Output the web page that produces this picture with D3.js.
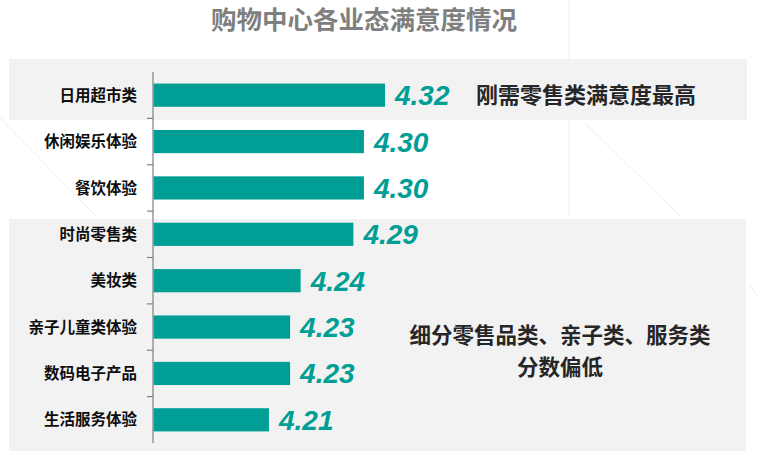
<!DOCTYPE html>
<html>
<head>
<meta charset="utf-8">
<script src="https://cdn.jsdelivr.net/npm/d3@7/dist/d3.min.js"></script>
<style>
  html, body { margin: 0; padding: 0; background: #ffffff; }
  svg { display: block; }
</style>
</head>
<body>
<svg id="chart" width="757" height="463"></svg>
<script>
// ---- data ----
const categories = ["日用超市类", "休闲娱乐体验", "餐饮体验", "时尚零售类", "美妆类", "亲子儿童类体验", "数码电子产品", "生活服务体验"];
const values = [4.32, 4.30, 4.30, 4.29, 4.24, 4.23, 4.23, 4.21];
const valueLabels = ["4.32", "4.30", "4.30", "4.29", "4.24", "4.23", "4.23", "4.21"];
const titleText = "购物中心各业态满意度情况";
const noteTop = ["刚需零售类满意度最高"];
const noteBottom = ["细分零售品类、亲子类、服务类", "分数偏低"];
const xDomain = [4.10, 4.40];

// ---- drawing ----
const svg = d3.select("#chart");
const cjk = "'Noto Sans CJK SC', 'Noto Sans', sans-serif";
const teal = "#009e94";

// faint decorative background lines
const deco = svg.append("g").attr("stroke", "#ececec").attr("stroke-width", 1).attr("fill", "none");
deco.append("line").attr("x1", 569).attr("y1", 0).attr("x2", 569).attr("y2", 216);
deco.append("line").attr("x1", 585).attr("y1", 123).attr("x2", 680).attr("y2", 216);
deco.append("line").attr("x1", 0).attr("y1", 118).attr("x2", 95).attr("y2", 215);
deco.append("line").attr("x1", 750).attr("y1", 285).attr("x2", 757).attr("y2", 296);

// gray panels
svg.append("rect").attr("x", 9).attr("y", 59).attr("width", 738).attr("height", 61).attr("fill", "#f2f2f2");
svg.append("rect").attr("x", 9).attr("y", 219).attr("width", 737).attr("height", 232).attr("fill", "#f2f2f2");

// title
svg.append("text")
  .attr("x", 364).attr("y", 29)
  .attr("text-anchor", "middle")
  .attr("font-family", cjk).attr("font-weight", "bold")
  .attr("font-size", 25.5).attr("fill", "#7f7f7f")
  .text(titleText);

const x = d3.scaleLinear().domain(xDomain).range([153, 469.4]);
const y = d3.scaleBand().domain(categories).range([72, 443]).paddingInner(0.5).paddingOuter(0.25);
const step = y.step();

// axis line and boundary ticks
const axis = svg.append("g").attr("stroke", "#808080").attr("stroke-width", 1.2);
axis.append("line").attr("x1", x(xDomain[0])).attr("x2", x(xDomain[0]))
  .attr("y1", y.range()[0]).attr("y2", y.range()[1]);
axis.selectAll("line.tick").data(categories.slice(1)).enter().append("line")
  .attr("class", "tick")
  .attr("x1", x(xDomain[0]) - 6).attr("x2", x(xDomain[0]))
  .attr("y1", d => y(d) - step * 0.25).attr("y2", d => y(d) - step * 0.25);

// bars
svg.selectAll("rect.bar").data(categories).enter().append("rect")
  .attr("class", "bar")
  .attr("x", x(xDomain[0]) + 0.6)
  .attr("y", d => y(d))
  .attr("width", (d, i) => x(values[i]) - x(xDomain[0]) - 0.6)
  .attr("height", y.bandwidth())
  .attr("fill", teal);

// category labels
svg.selectAll("text.cat").data(categories).enter().append("text")
  .attr("class", "cat")
  .attr("x", 137)
  .attr("y", d => y(d) + y.bandwidth() / 2)
  .attr("dy", "0.36em")
  .attr("text-anchor", "end")
  .attr("font-family", cjk).attr("font-weight", 600)
  .attr("font-size", 15.5).attr("fill", "#0d0d0d")
  .text(d => d);

// value labels
svg.selectAll("text.val").data(categories).enter().append("text")
  .attr("class", "val")
  .attr("x", (d, i) => x(values[i]) + 10)
  .attr("y", d => y(d) + y.bandwidth() / 2 + 10)
  .attr("font-family", "'Liberation Sans', Arial, sans-serif")
  .attr("font-weight", "bold").attr("font-style", "italic")
  .attr("font-size", 28).attr("fill", teal)
  .text((d, i) => valueLabels[i]);

// annotations
svg.append("text")
  .attr("x", 476).attr("y", y(categories[0]) + y.bandwidth() / 2)
  .attr("dy", "0.36em")
  .attr("font-family", cjk).attr("font-weight", "bold")
  .attr("font-size", 22).attr("fill", "#262626")
  .text(noteTop[0]);

svg.selectAll("text.note").data(noteBottom).enter().append("text")
  .attr("class", "note")
  .attr("x", 560)
  .attr("y", (d, i) => 335.5 + i * 31.5)
  .attr("dy", "0.36em")
  .attr("text-anchor", "middle")
  .attr("font-family", cjk).attr("font-weight", "bold")
  .attr("font-size", 21.5).attr("fill", "#262626")
  .text(d => d);
</script>
</body>
</html>
